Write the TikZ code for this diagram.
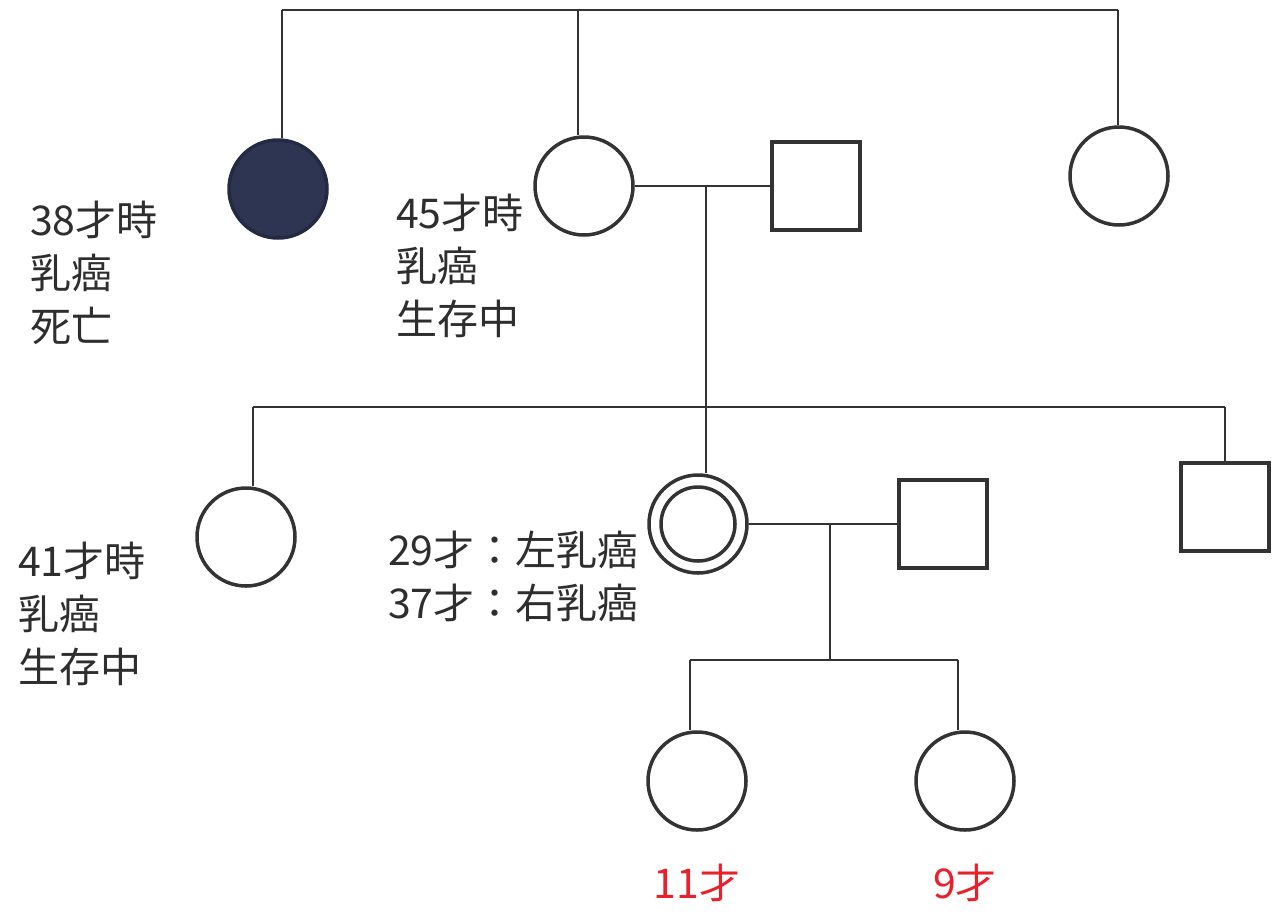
\documentclass[tikz,border=0pt]{standalone}
\usepackage{fontspec}
\setmainfont{Noto Sans CJK JP}
\definecolor{ink}{HTML}{333333}
\definecolor{txt}{HTML}{2E2E2E}
\definecolor{navy}{HTML}{2D3553}
\definecolor{agered}{HTML}{E8212B}
\begin{document}
\begin{tikzpicture}[x=1pt,y=-1pt,
  female/.style={circle,draw=ink,line width=3.5pt,minimum size=98pt,inner sep=0pt},
  male/.style={rectangle,draw=ink,line width=3.5pt,minimum size=88pt,inner sep=0pt},
  link/.style={draw=ink,line width=1.8pt},
  lbl/.style={text=txt,font=\fontsize{41}{53}\selectfont,align=left,anchor=west,inner sep=0pt},
  agelbl/.style={text=agered,font=\fontsize{41}{46}\selectfont,inner sep=0pt}]
\useasboundingbox[fill=white] (0,0) rectangle (1281,914);

% generation I (siblings)
\node[female,fill=navy,draw=navy!80!black] (A) at (278,189) {};
\node[female] (B) at (584,186) {};
\node[female] (C) at (1119,176) {};
\node[male] (D) at (816,186) {};

\coordinate (tA) at (282,10);
\coordinate (tB) at (578,10);
\coordinate (tC) at (1118,10);
\draw[link] (tA) -- (tC);
\draw[link] (tA) -- (tA |- A.north);
\draw[link] (tB) -- (tB |- B.north);
\draw[link] (tC) -- (tC |- C.north);

% marriage 1
\draw[link] (B.east) -- (D.west);
\coordinate (m1) at (706,186);
\coordinate (s1) at (706,407);
\draw[link] (m1) -- (s1);

% generation II
\node[female] (E) at (246,537) {};
\node[female] (F) at (698,524) {};
\node[circle,draw=ink,line width=3.5pt,minimum size=74pt,inner sep=0pt] (Fi) at (F) {};
\node[male] (G) at (1225,507) {};
\node[male] (H) at (943,524) {};

\coordinate (sE) at (253,407);
\coordinate (sG) at (1225,407);
\draw[link] (sE) -- (sG);
\draw[link] (sE) -- (sE |- E.north);
\draw[link] (s1) -- (s1 |- F.north);
\draw[link] (sG) -- (G.north);

% marriage 2
\draw[link] (F.east) -- (H.west);
\coordinate (m2) at (830,524);
\coordinate (c1) at (830,660);
\draw[link] (m2) -- (c1);

% generation III
\node[female] (I) at (697,781) {};
\node[female] (J) at (965,781) {};
\coordinate (cI) at (690,660);
\coordinate (cJ) at (958,660);
\draw[link] (cI) -- (cJ);
\draw[link] (cI) -- (cI |- I.north);
\draw[link] (cJ) -- (cJ |- J.north);

% labels
\node[lbl] (lA) at (30,273) {38才時\\乳癌\\死亡};
\node[lbl] (lB) at (396,266) {45才時\\乳癌\\生存中};
\node[lbl] (lE) at (18,614) {41才時\\乳癌\\生存中};
\node[lbl] (lF) at (388,576) {29才：左乳癌\\37才：右乳癌};
\node[agelbl] (lI) at (697,883) {11才};
\node[agelbl] (lJ) at (965,883) {9才};
\end{tikzpicture}
\end{document}
